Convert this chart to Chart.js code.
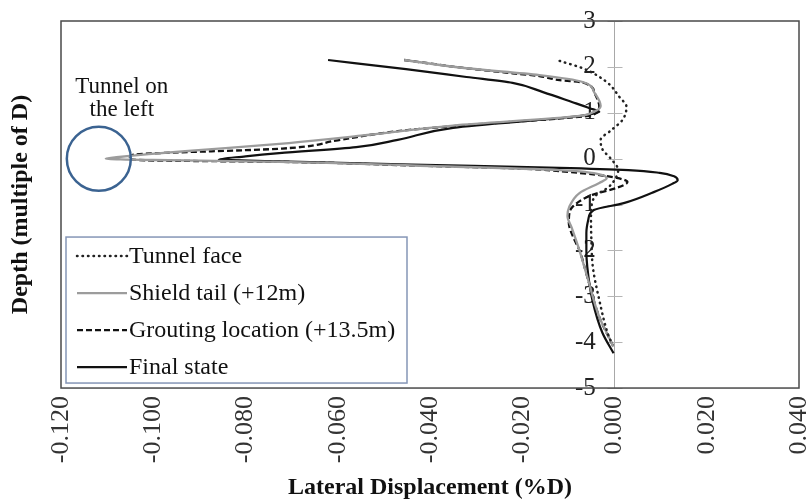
<!DOCTYPE html>
<html>
<head>
<meta charset="utf-8">
<script src="https://cdn.jsdelivr.net/npm/chart.js@4.4.1/dist/chart.umd.min.js"></script>
<style>
  html, body { margin: 0; padding: 0; background: #fff; }
</style>
</head>
<body>
<canvas id="chart" width="811" height="502"></canvas>
<script>
// depth in multiples of D, displacement in %D
const faceDepth = [2.13, 1.97, 1.67, 1.34, 1.13, 0.84, 0.62, 0.41, 0.20, 0.00, -0.25, -0.45, -0.62, -0.80, -1.05, -1.30, -1.80, -2.36, -3.08, -3.80, -4.00]
const faceDisp = [-0.0119, -0.0069, -0.0017, 0.0011, 0.0026, 0.0017, -0.0007, -0.0030, -0.0026, -0.0008, 0.0008, 0.0001, -0.0013, -0.0040, -0.0050, -0.0051, -0.0050, -0.0047, -0.0033, -0.0015, -0.0007]

const tailDepth = [2.15, 1.97, 1.82, 1.67, 1.43, 1.15, 1.02, 0.93, 0.72, 0.50, 0.34, 0.20, 0.10, 0.03, 0.00, -0.03, -0.07, -0.15, -0.25, -0.36, -0.43, -0.53, -0.75, -1.05, -1.25, -1.50, -2.00, -2.58, -3.45, -4.00, -4.10]
const tailDisp = [-0.0456, -0.0321, -0.0163, -0.0069, -0.0043, -0.0030, -0.0045, -0.0076, -0.0350, -0.0550, -0.0706, -0.0880, -0.1010, -0.1080, -0.1103, -0.1000, -0.0727, -0.0440, -0.0119, -0.0026, -0.0017, -0.0033, -0.0076, -0.0098, -0.0102, -0.0093, -0.0076, -0.0059, -0.0033, -0.0007, -0.0003]

const groutDepth = [2.15, 1.97, 1.86, 1.80, 1.71, 1.66, 1.43, 1.13, 0.95, 0.90, 0.71, 0.60, 0.40, 0.22, 0.08, 0.00, -0.04, -0.07, -0.15, -0.22, -0.29, -0.35, -0.42, -0.51, -0.64, -0.79, -1.05, -1.20, -1.40, -1.70, -2.00, -2.58, -3.45, -4.00, -4.10]
const groutDisp = [-0.0456, -0.0321, -0.0221, -0.0163, -0.0119, -0.0069, -0.0043, -0.0033, -0.0048, -0.0090, -0.0350, -0.0470, -0.0600, -0.0720, -0.1046, -0.1053, -0.1000, -0.0727, -0.0440, -0.0200, -0.0100, -0.0040, 0.0005, 0.0028, 0.0004, -0.0048, -0.0091, -0.0098, -0.0099, -0.0090, -0.0076, -0.0059, -0.0033, -0.0007, -0.0002]

const finalDepth = [2.15, 1.95, 1.78, 1.65, 1.45, 1.23, 1.10, 1.02, 0.93, 0.67, 0.41, 0.25, 0.12, 0.05, -0.02, -0.06, -0.13, -0.20, -0.25, -0.31, -0.38, -0.47, -0.55, -0.73, -0.97, -1.12, -1.34, -1.62, -2.00, -2.36, -3.08, -3.80, -4.24]
const finalDisp = [-0.0621, -0.0452, -0.0321, -0.0221, -0.0155, -0.0091, -0.0054, -0.0033, -0.0076, -0.0350, -0.0470, -0.0560, -0.0727, -0.0800, -0.0858, -0.0727, -0.0440, -0.0120, 0.0030, 0.0098, 0.0128, 0.0137, 0.0125, 0.0085, 0.0020, -0.0045, -0.0057, -0.0061, -0.0061, -0.0059, -0.0048, -0.0026, -0.0002]

const seriesNames = ['Tunnel face', 'Shield tail (+12m)', 'Grouting location (+13.5m)', 'Final state']
const tunnelText = ['Tunnel on', 'the left']
const tunnelX = -0.1118
const tunnelDepth = 0

const serif = "'Liberation Serif', 'Times New Roman', serif"

const pts = (depth, disp) => depth.map((d, i) => ({ x: disp[i], y: d }))

// frame, cross ticks, tunnel circle, legend and y title
const extras = {
  id: 'extras',
  beforeDatasetsDraw(chart) {
    const { ctx, scales: { x, y } } = chart
    const x0 = x.getPixelForValue(0)
    ctx.save()
    ctx.strokeStyle = '#b5b5b5'
    ctx.lineWidth = 1
    y.ticks.forEach(t => {
      const py = Math.round(y.getPixelForValue(t.value)) + 0.5
      ctx.beginPath()
      ctx.moveTo(x0 - 7, py)
      ctx.lineTo(x0 + 8, py)
      ctx.stroke()
    })
    ctx.restore()
  },
  afterDatasetsDraw(chart) {
    const { ctx, chartArea: a, scales: { x, y } } = chart
    ctx.save()

    // box
    ctx.strokeStyle = '#4a4a4a'
    ctx.lineWidth = 1.5
    ctx.strokeRect(a.left, a.top, a.width, a.height)

    // tunnel
    const cx = x.getPixelForValue(tunnelX)
    const cy = y.getPixelForValue(tunnelDepth)
    ctx.strokeStyle = '#3b6391'
    ctx.lineWidth = 2.5
    ctx.beginPath()
    ctx.arc(cx, cy, 32, 0, Math.PI * 2)
    ctx.stroke()
    ctx.fillStyle = '#111'
    ctx.font = '23px ' + serif
    ctx.textAlign = 'center'
    ctx.textBaseline = 'alphabetic'
    ctx.fillText(tunnelText[0], cx + 23, cy - 66)
    ctx.fillText(tunnelText[1], cx + 23, cy - 43)

    // legend
    const lx = a.left + 5, ly = a.bottom - 151
    ctx.fillStyle = '#fff'
    ctx.fillRect(lx, ly, 341, 146)
    ctx.strokeStyle = '#8596b6'
    ctx.lineWidth = 1.5
    ctx.strokeRect(lx, ly, 341, 146)
    chart.data.datasets.forEach((ds, i) => {
      const ry = ly + 19 + i * 37
      ctx.strokeStyle = ds.borderColor
      ctx.lineWidth = ds.borderWidth
      ctx.lineCap = ds.borderCapStyle || 'butt'
      ctx.setLineDash(ds.borderDash || [])
      ctx.beginPath()
      ctx.moveTo(lx + 11, ry)
      ctx.lineTo(lx + 61, ry)
      ctx.stroke()
      ctx.setLineDash([])
      ctx.fillStyle = '#111'
      ctx.textAlign = 'left'
      ctx.textBaseline = 'middle'
      ctx.font = '24px ' + serif
      ctx.fillText(ds.label, lx + 63, ry + 1)
    })

    // y title
    ctx.translate(21, (a.top + a.bottom) / 2)
    ctx.rotate(-Math.PI / 2)
    ctx.font = 'bold 24px ' + serif
    ctx.textAlign = 'center'
    ctx.textBaseline = 'middle'
    ctx.fillStyle = '#111'
    ctx.fillText('Depth (multiple of D)', 0, 0)
    ctx.restore()
  }
}

const data = {
  datasets: [
    {
      label: seriesNames[0],
      data: pts(faceDepth, faceDisp),
      borderColor: '#222',
      borderWidth: 2.5,
      borderDash: [0.5, 5],
      borderCapStyle: 'round'
    },
    {
      label: seriesNames[1],
      data: pts(tailDepth, tailDisp),
      borderColor: '#9c9c9c',
      borderWidth: 2.3
    },
    {
      label: seriesNames[2],
      data: pts(groutDepth, groutDisp),
      borderColor: '#111',
      borderWidth: 2.3,
      borderDash: [6, 3]
    },
    {
      label: seriesNames[3],
      data: pts(finalDepth, finalDisp),
      borderColor: '#111',
      borderWidth: 2.2
    }
  ]
}

const config = {
  type: 'line',
  data: data,
  plugins: [extras],
  options: {
    responsive: false,
    animation: false,
    indexAxis: 'y',
    layout: { padding: { left: 61, right: 12, top: 21, bottom: 0 } },
    elements: {
      point: { radius: 0 },
      line: { cubicInterpolationMode: 'monotone', fill: false }
    },
    plugins: {
      legend: { display: false },
      tooltip: { enabled: false }
    },
    scales: {
      x: {
        type: 'linear',
        min: -0.12,
        max: 0.04,
        grid: { display: false, drawTicks: false },
        border: { display: false },
        afterFit: s => { s.paddingLeft = 0; s.paddingRight = 0 },
        ticks: {
          stepSize: 0.02,
          minRotation: 90,
          maxRotation: 90,
          padding: 8,
          color: '#333',
          font: { family: serif, size: 26 },
          callback: v => Math.abs(v) < 1e-9 ? '0.000' : v.toFixed(3)
        },
        title: {
          display: true,
          text: 'Lateral Displacement (%D)',
          color: '#111',
          font: { family: serif, size: 24, weight: 'bold' },
          padding: { top: 2, bottom: 0 }
        }
      },
      y: {
        type: 'linear',
        min: -5,
        max: 3,
        position: { x: 0 },
        grid: { display: false, drawTicks: false },
        border: { display: true, color: '#a8a8a8', width: 1 },
        ticks: {
          stepSize: 1,
          color: '#222',
          font: { family: serif, size: 25 },
          // trailing spaces keep the labels clear of the axis line
          callback: v => v + '   '
        }
      }
    }
  }
}

new Chart(document.getElementById('chart'), config)
</script>
</body>
</html>
